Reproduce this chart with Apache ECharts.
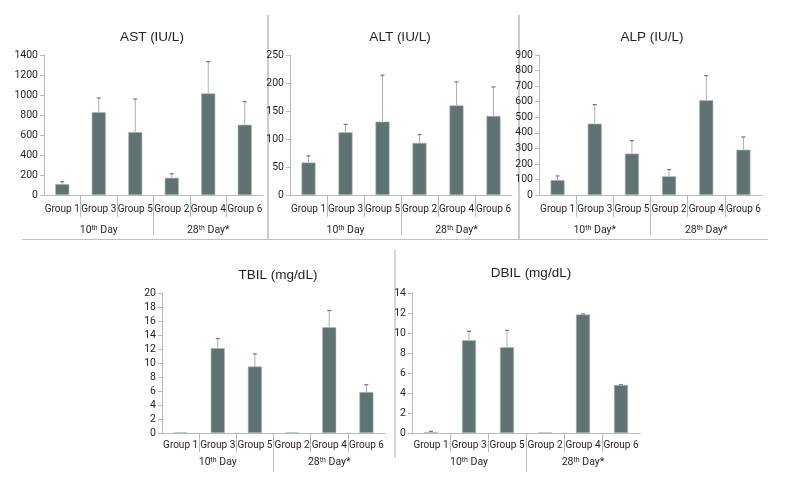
<!DOCTYPE html>
<html>
<head>
<meta charset="utf-8">
<script src="https://cdn.jsdelivr.net/npm/echarts@6/dist/echarts.min.js"></script>
<style>html,body{margin:0;padding:0;background:#fff}#c{width:790px;height:490px}</style>
</head>
<body>
<div id="c"></div>
<script>
// ---- data ----
const categories = ['Group 1', 'Group 3', 'Group 5', 'Group 2', 'Group 4', 'Group 6'];
const dayLabels = ['10th Day', '28th Day*'];
const dayLabelsALP = ['10th Day*', '28th Day*'];

const astMean = [109, 827, 629, 172, 1016, 702];
const astErr  = [23, 143, 331, 40, 318, 232];
const altMean = [58, 112, 131, 93, 160, 141];
const altErr  = [12, 14, 83, 15, 42, 52];
const alpMean = [96, 459, 266, 120, 609, 291];
const alpErr  = [26, 122, 83, 43, 158, 82];
const tbilMean = [0.08, 12.1, 9.5, 0.08, 15.1, 5.85];
const tbilErr  = [0, 1.4, 1.8, 0, 2.4, 1.05];
const dbilMean = [0.07, 9.27, 8.57, 0.05, 11.85, 4.8];
const dbilErr  = [0.1, 0.9, 1.7, 0, 0.05, 0.03];

const titles = ['AST (IU/L)', 'ALT (IU/L)', 'ALP (IU/L)', 'TBIL (mg/dL)', 'DBIL (mg/dL)'];
const yMax = [1400, 250, 900, 20, 14];
const yStep = [200, 50, 100, 2, 2];

// ---- layout (pixels) ----
const panels = [
  {mean: astMean, err: astErr, days: dayLabels, left: 44, top: 55, width: 219, height: 140, titleX: 147, titleY: 32, sepA: 22, sepB: 40, catMargin: 9, dayOffset: 21},
  {mean: altMean, err: altErr, days: dayLabels, left: 290, top: 55, width: 222, height: 140, titleX: 395, titleY: 32, sepA: 22, sepB: 40, catMargin: 9, dayOffset: 21},
  {mean: alpMean, err: alpErr, days: dayLabelsALP, left: 539, top: 55, width: 223, height: 140, titleX: 647, titleY: 32, sepA: 22, sepB: 40, catMargin: 9, dayOffset: 21},
  {mean: tbilMean, err: tbilErr, days: dayLabels, left: 162, top: 293, width: 223, height: 140, titleX: 273, titleY: 270, sepA: 19, sepB: 39, catMargin: 7, dayOffset: 15},
  {mean: dbilMean, err: dbilErr, days: dayLabels, left: 412, top: 293, width: 228, height: 140, titleX: 526, titleY: 268, sepA: 19, sepB: 39, catMargin: 7, dayOffset: 15}
];

const FONT = 'Roboto, "Liberation Sans", Arial, sans-serif';
const TFONT = '"Liberation Sans", Arial, sans-serif';
const txt = '#231f20';
const barColor = '#5f7372';
const axisColor = '#b3bcbb';

const grid = [], xAxis = [], yAxis = [], series = [], title = [];

panels.forEach(function (p, i) {
  const g0 = grid.length;
  grid.push({left: p.left, top: p.top, width: p.width, height: p.height});
  grid.push({left: p.left, top: p.top + p.height, width: p.width, height: p.sepA});
  grid.push({left: p.left, top: p.top + p.height, width: p.width, height: p.sepB});

  const xMain = xAxis.length;
  xAxis.push({
    type: 'category', gridIndex: g0, data: categories,
    axisLine: {lineStyle: {color: axisColor, width: 1}},
    axisTick: {show: false},
    axisLabel: {color: txt, fontFamily: FONT, fontSize: 10, margin: p.catMargin, interval: 0}
  });
  xAxis.push({
    type: 'category', gridIndex: g0, data: p.days, position: 'bottom', offset: p.dayOffset,
    axisLine: {show: false}, axisTick: {show: false},
    axisLabel: {
      color: txt, fontFamily: FONT, fontSize: 10.5, margin: 9, interval: 0,
      formatter: function (v) { return v.replace(/(\d+)th/, '$1{sup|th}'); },
      rich: {sup: {fontSize: 7, fontFamily: FONT, color: txt, verticalAlign: 'top', lineHeight: 8, padding: [0, 0, 5, 0]}}
    }
  });
  xAxis.push({
    type: 'category', gridIndex: g0 + 1, data: categories,
    axisLine: {show: false}, axisTick: {show: false}, axisLabel: {show: false},
    splitLine: {show: true, interval: 0, showMinLine: false, showMaxLine: false, lineStyle: {color: axisColor, width: 1}}
  });
  xAxis.push({
    type: 'category', gridIndex: g0 + 2, data: p.days,
    axisLine: {show: false}, axisTick: {show: false}, axisLabel: {show: false},
    splitLine: {show: true, interval: 0, showMinLine: false, showMaxLine: false, lineStyle: {color: axisColor, width: 1}}
  });

  const yMain = yAxis.length;
  yAxis.push({
    type: 'value', gridIndex: g0, min: 0, max: yMax[i], interval: yStep[i],
    axisLine: {show: true, lineStyle: {color: axisColor, width: 1}},
    axisTick: {show: true, length: 4, lineStyle: {color: axisColor}},
    axisLabel: {color: txt, fontFamily: FONT, fontSize: 10.5, margin: 6, formatter: function (v) { return String(v); }},
    splitLine: {show: false}
  });
  yAxis.push({type: 'value', gridIndex: g0 + 1, show: false});
  yAxis.push({type: 'value', gridIndex: g0 + 2, show: false});

  series.push({
    type: 'bar', xAxisIndex: xMain, yAxisIndex: yMain, data: p.mean,
    barWidth: 14,
    itemStyle: {color: barColor, borderColor: '#aab6b5', borderWidth: 0.6},
    silent: true, animation: false
  });
  const errData = p.mean.map(function (m, k) { return [k, m, m + p.err[k]]; });
  series.push({
    type: 'custom', xAxisIndex: xMain, yAxisIndex: yMain, data: errData,
    animation: false, silent: true,
    renderItem: function (params, api) {
      const x = api.value(0);
      const lo = api.coord([x, api.value(1)]);
      const hi = api.coord([x, api.value(2)]);
      if (api.value(2) - api.value(1) <= 0) return null;
      return {
        type: 'group',
        children: [
          {type: 'line', shape: {x1: lo[0], y1: lo[1], x2: hi[0], y2: hi[1]}, style: {stroke: '#a9b1b0', lineWidth: 1}},
          {type: 'line', shape: {x1: hi[0] - 2, y1: hi[1], x2: hi[0] + 2, y2: hi[1]}, style: {stroke: '#6c7776', lineWidth: 1.2}}
        ]
      };
    }
  });

  title.push({
    text: titles[i], left: p.titleX, top: p.titleY, textAlign: 'center', textVerticalAlign: 'middle',
    textStyle: {fontFamily: TFONT, fontSize: 13.5, fontWeight: 'normal', color: txt}
  });
});

const frame = [
  {x1: 268, y1: 15, x2: 268, y2: 240, c: '#8d9d9c'},
  {x1: 519, y1: 15, x2: 519, y2: 240, c: '#8d9d9c'},
  {x1: 22, y1: 239.5, x2: 768, y2: 239.5, c: '#b9c3c2'},
  {x1: 395, y1: 250, x2: 395, y2: 458, c: '#a3b1b0'}
];

const chart = echarts.init(document.getElementById('c'), null, {renderer: 'canvas'});
chart.setOption({
  animation: false,
  backgroundColor: '#ffffff',
  title: title,
  grid: grid,
  xAxis: xAxis,
  yAxis: yAxis,
  series: series,
  graphic: frame.map(function (f) {
    return {type: 'line', silent: true, shape: {x1: f.x1, y1: f.y1, x2: f.x2, y2: f.y2}, style: {stroke: f.c, lineWidth: 1}};
  })
});
</script>
</body>
</html>
